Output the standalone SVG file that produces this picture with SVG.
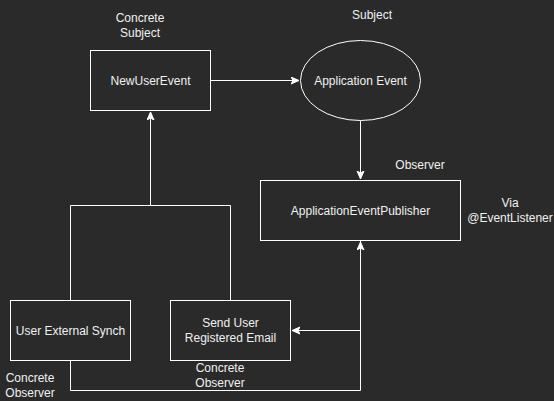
<svg xmlns="http://www.w3.org/2000/svg" width="554" height="401" viewBox="0 0 554 401">
<style>
.shape{fill:#2a2a2a;stroke:#ffffff;stroke-width:1}
.edge{fill:none;stroke:#ffffff;stroke-width:1}
text{font-family:"Liberation Sans",Arial,sans-serif;font-size:12px;fill:#f0f0f0;text-anchor:middle}
</style>
<defs>
<marker id="arr" markerWidth="10" markerHeight="10" refX="8" refY="4" orient="auto" markerUnits="userSpaceOnUse">
<path d="M0,0.5 L8,4 L0,7.5 L2,4 Z" fill="#ffffff" stroke="#ffffff" stroke-width="1"/>
</marker>
</defs>
<rect x="0" y="0" width="554" height="401" fill="#2a2a2a"/>
<g id="connectors">
<path class="edge" d="M210.5,80.5 L299,80.5" marker-end="url(#arr)"/>
<path class="edge" d="M360.5,120.5 L360.5,179" marker-end="url(#arr)"/>
<path class="edge" d="M70.5,300.5 L70.5,205.5 L150.5,205.5 L150.5,112" marker-end="url(#arr)"/>
<path class="edge" d="M230.5,300.5 L230.5,205.5 L150.5,205.5"/>
<path class="edge" d="M70.5,360.5 L70.5,390.5 L360.5,390.5 L360.5,242" marker-end="url(#arr)"/>
<path class="edge" d="M360.5,240.5 L360.5,330.5 L292,330.5" marker-end="url(#arr)"/>
</g>
<g id="newUserEvent">
<rect class="shape" x="90.5" y="50.5" width="120" height="60"/>
<text x="150.5" y="84.5">NewUserEvent</text>
</g>
<g id="applicationEvent">
<ellipse class="shape" cx="360.5" cy="80.5" rx="60" ry="40"/>
<text x="360.5" y="84.5">Application Event</text>
</g>
<g id="applicationEventPublisher">
<rect class="shape" x="260.5" y="180.5" width="200" height="60"/>
<text x="360.5" y="214.5">ApplicationEventPublisher</text>
</g>
<g id="userExternalSynch">
<rect class="shape" x="10.5" y="300.5" width="120" height="60"/>
<text x="70.5" y="334.5">User External Synch</text>
</g>
<g id="sendUserRegisteredEmail">
<rect class="shape" x="170.5" y="300.5" width="120" height="60"/>
<text x="230.5" y="326.5">Send User</text>
<text x="230.5" y="341.5">Registered Email</text>
</g>
<g id="labels">
<text x="140" y="22">Concrete</text>
<text x="140" y="37">Subject</text>
<text x="372" y="19">Subject</text>
<text x="420" y="169">Observer</text>
<text x="510" y="207">Via</text>
<text x="510" y="222">@EventListener</text>
<text x="30" y="382">Concrete</text>
<text x="30" y="397">Observer</text>
<text x="220" y="372">Concrete</text>
<text x="220" y="387">Observer</text>
</g>
</svg>
